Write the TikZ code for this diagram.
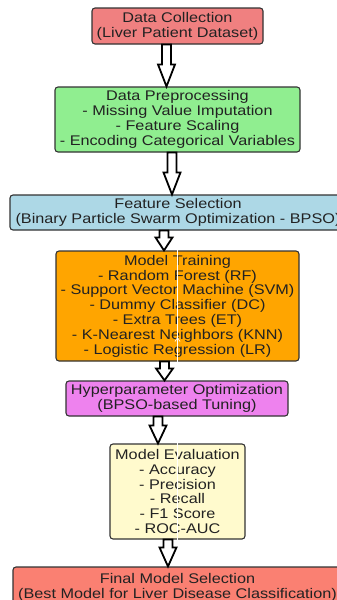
\documentclass[tikz,border=0pt]{standalone}
\usepackage{fontspec}
\setmainfont{Liberation Sans}[FakeStretch=1.16]
\usetikzlibrary{calc,arrows.meta}
\definecolor{cA}{HTML}{F08080}
\definecolor{cB}{HTML}{90EE90}
\definecolor{cC}{HTML}{ADD8E6}
\definecolor{cD}{HTML}{FFA500}
\definecolor{cE}{HTML}{EE82EE}
\definecolor{cF}{HTML}{FFFACD}
\definecolor{cG}{HTML}{FA8072}
\definecolor{edge}{HTML}{333333}
\definecolor{txt}{HTML}{222222}
\tikzset{
  box/.style={draw=edge, line width=1.1pt, rounded corners=3pt, inner sep=0pt,
    align=center, text=txt, font=\fontsize{14pt}{14.8pt}\selectfont},
  hollow/.style={draw=black, fill=white, line width=1.8pt, line join=miter},
  ghost/.style={draw=white, line width=0.6pt}
}
\newcommand\flowarrow[4]{%
  \draw[hollow] let \p1=(#1.south), \p2=(#2.north) in
   (#3pt-4.5pt,\y1) -- (#3pt+4.5pt,\y1) -- (#3pt+4.5pt,\y2+#4pt) -- (#3pt+8.5pt,\y2+#4pt)
   -- (#3pt,\y2) -- (#3pt-8.5pt,\y2+#4pt) -- (#3pt-4.5pt,\y2+#4pt) -- cycle;}
\begin{document}
\begin{tikzpicture}[x=1pt,y=-1pt]
\useasboundingbox (0,0) rectangle (337,600);
\clip (0,0) rectangle (337,600);
\node[box, fill=cA, minimum width=171pt, minimum height=36pt] (dc) at (177.5,26)
  {Data Collection\\(Liver Patient Dataset)};
\node[box, fill=cB, minimum width=245pt, minimum height=65pt] (dp) at (177.5,119.5)
  {Data Preprocessing\\- Missing Value Imputation\\- Feature Scaling\\- Encoding Categorical Variables};
\node[box, fill=cC, minimum width=336pt, minimum height=35pt] (fs) at (178,212.5)
  {Feature Selection\\(Binary Particle Swarm Optimization - BPSO)};
\node[box, fill=cD, minimum width=243pt, minimum height=110pt] (mt) at (177.5,306)
  {Model Training\\- Random Forest (RF)\\- Support Vector Machine (SVM)\\- Dummy Classifier (DC)\\- Extra Trees (ET)\\- K-Nearest Neighbors (KNN)\\- Logistic Regression (LR)};
\node[box, fill=cE, minimum width=222pt, minimum height=35pt] (ho) at (177,398.5)
  {Hyperparameter Optimization\\(BPSO-based Tuning)};
\node[box, fill=cF, minimum width=135pt, minimum height=95pt] (me) at (177.5,491.5)
  {Model Evaluation\\- Accuracy\\- Precision\\- Recall\\- F1 Score\\- ROC-AUC};
\node[box, fill=cG, minimum width=329pt, minimum height=40pt] (fm) at (177.5,587)
  {Final Model Selection\\(Best Model for Liver Disease Classification)};
\draw[ghost] (mt.north) -- (mt.south);
\draw[ghost] ($(mt.south)+(0,-24)$) -- ++(-2.5,4) ($(mt.south)+(0,-24)$) -- ++(2.5,4);
\draw[ghost] (me.north) -- (me.south);
\flowarrow{dc}{dp}{166.5}{22}
\flowarrow{dp}{fs}{172}{22}
\flowarrow{fs}{mt}{164}{13}
\flowarrow{mt}{ho}{164.5}{12}
\flowarrow{ho}{me}{158}{18}
\flowarrow{me}{fm}{168}{19}
\end{tikzpicture}
\end{document}
